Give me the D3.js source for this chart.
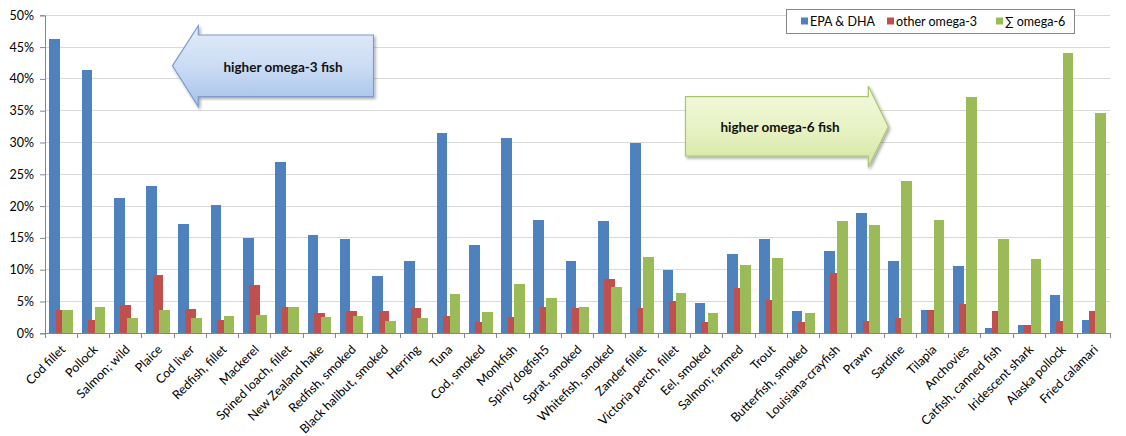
<!DOCTYPE html>
<html>
<head>
<meta charset="utf-8">
<script src="https://cdn.jsdelivr.net/npm/d3@7"></script>
<style>
  html, body { margin: 0; padding: 0; background: #fff; }
  svg { display: block; font-family: Lato, "Open Sans", sans-serif; }
</style>
</head>
<body>
<svg id="chart" width="1126" height="436"></svg>
<script>
const categories = ["Cod fillet", "Pollock", "Salmon; wild", "Plaice", "Cod liver", "Redfish, fillet",
  "Mackerel", "Spined loach, fillet", "New Zealand hake", "Redfish, smoked", "Black halibut, smoked",
  "Herring", "Tuna", "Cod, smoked", "Monkfish", "Spiny dogfish5", "Sprat, smoked", "Whitefish, smoked",
  "Zander fillet", "Victoria perch, fillet", "Eel, smoked", "Salmon; farmed", "Trout", "Butterfish, smoked",
  "Louisiana-crayfish", "Prawn", "Sardine", "Tilapia", "Anchovies", "Catfish, canned fish",
  "Iridescent shark", "Alaska pollock", "Fried calamari"];

const seriesNames = ["EPA & DHA", "other omega-3", "\u2211 omega-6"];

const epaDha = [46.3, 41.4, 21.3, 23.1, 17.2, 20.2, 15.0, 26.9, 15.4, 14.8,
  9.0, 11.4, 31.5, 13.9, 30.7, 17.8, 11.4, 17.6, 29.9, 9.95,
  4.8, 12.5, 14.8, 3.5, 13.0, 18.9, 11.4, 3.7, 10.6, 0.9,
  1.3, 6.0, 2.1];
const otherOmega3 = [3.7, 2.1, 4.45, 9.2, 3.8, 2.1, 7.6, 4.1, 3.2, 3.5,
  3.5, 4.0, 2.7, 1.8, 2.6, 4.1, 4.0, 8.5, 4.0, 5.1,
  1.8, 7.1, 5.2, 1.8, 9.5, 1.9, 2.4, 3.7, 4.55, 3.5,
  1.3, 1.9, 3.5];
const omega6 = [3.7, 4.1, 2.4, 3.7, 2.4, 2.7, 2.9, 4.1, 2.6, 2.7,
  1.9, 2.4, 6.2, 3.35, 7.75, 5.55, 4.1, 7.3, 12.0, 6.3,
  3.2, 10.7, 11.9, 3.2, 17.7, 17.0, 23.9, 17.8, 37.1, 14.8,
  11.7, 44.1, 34.6];

const yTicks = [0, 5, 10, 15, 20, 25, 30, 35, 40, 45, 50];
const colors = ["#4f81bd", "#c0504d", "#9bbb59"];

const seriesValues = [epaDha, otherOmega3, omega6];

const svg = d3.select("#chart");
const plotLeft = 45, plotRight = 1110, plotTop = 15.3, plotBottom = 333.3;

const x = d3.scaleBand().domain(categories).range([plotLeft, plotRight]).paddingInner(0).paddingOuter(0);
const y = d3.scaleLinear().domain([0, 50]).range([plotBottom, plotTop]);
// bars overlap: start offset within a category band, per series index
const sub = d3.scaleLinear().domain([0, 2]).range([x.bandwidth() * 0.135, x.bandwidth() * 0.537]);
const barW = x.bandwidth() * 0.33;

// defs: gradients + shadow
const defs = svg.append("defs");
const gb = defs.append("linearGradient").attr("id", "gBlue").attr("x1", 0).attr("y1", 0).attr("x2", 0).attr("y2", 1);
gb.append("stop").attr("offset", "0%").attr("stop-color", "#e2ecf9");
gb.append("stop").attr("offset", "55%").attr("stop-color", "#c8daf3");
gb.append("stop").attr("offset", "100%").attr("stop-color", "#a3c0ea");
const gg = defs.append("linearGradient").attr("id", "gGreen").attr("x1", 0).attr("y1", 0).attr("x2", 0).attr("y2", 1);
gg.append("stop").attr("offset", "0%").attr("stop-color", "#f4f9e0");
gg.append("stop").attr("offset", "55%").attr("stop-color", "#e6f2c2");
gg.append("stop").attr("offset", "100%").attr("stop-color", "#d2e6a2");
const f = defs.append("filter").attr("id", "shadow").attr("x", "-10%").attr("y", "-10%").attr("width", "130%").attr("height", "140%");
f.append("feDropShadow").attr("dx", 1.5).attr("dy", 2).attr("stdDeviation", 1.5).attr("flood-color", "#000").attr("flood-opacity", 0.35);

// gridlines
svg.append("g").selectAll("line").data(yTicks.filter(d => d > 0)).join("line")
  .attr("x1", plotLeft).attr("x2", plotRight)
  .attr("y1", d => y(d)).attr("y2", d => y(d))
  .attr("stroke", "#d9d9d9").attr("stroke-width", 1).attr("shape-rendering", "crispEdges");

// bars (blue, red, green in draw order)
seriesValues.forEach((vals, si) => {
  svg.append("g").selectAll("rect").data(vals).join("rect")
    .attr("x", (d, i) => x(categories[i]) + sub(si))
    .attr("width", barW)
    .attr("y", d => y(d))
    .attr("height", d => y(0) - y(d))
    .attr("fill", colors[si])
    .attr("shape-rendering", "crispEdges");
});

// y axis
const yAxis = d3.axisLeft(y).tickValues(yTicks).tickSize(5).tickPadding(6).tickFormat(d => d + "%");
const gy = svg.append("g").attr("transform", `translate(${plotLeft},0)`).call(yAxis);
gy.select(".domain").attr("stroke", "#868686");
gy.selectAll(".tick line").attr("stroke", "#868686");
gy.selectAll("text").attr("font-size", 12.5).attr("fill", "#000").attr("font-family", "Lato, sans-serif");

// x axis
const boundaries = categories.map(c => x(c)).concat([plotRight]);
svg.append("line").attr("x1", plotLeft).attr("x2", plotRight).attr("y1", plotBottom).attr("y2", plotBottom)
  .attr("stroke", "#868686").attr("shape-rendering", "crispEdges");
svg.append("g").selectAll("line").data(boundaries).join("line")
  .attr("x1", d => d).attr("x2", d => d).attr("y1", plotBottom).attr("y2", plotBottom + 5)
  .attr("stroke", "#868686").attr("shape-rendering", "crispEdges");
svg.append("g").selectAll("text").data(categories).join("text")
  .attr("transform", d => `translate(${x(d) + x.bandwidth() / 2 + 5},${plotBottom + 17}) rotate(-45)`)
  .attr("text-anchor", "end")
  .attr("font-size", 12.5)
  .attr("fill", "#000")
  .text(d => d);

// legend
const lg = svg.append("g");
lg.append("rect").attr("x", 786.5).attr("y", 9.5).attr("width", 288).attr("height", 24)
  .attr("fill", "#fff").attr("stroke", "#868686");
const legendX = [801, 887, 996];
seriesNames.forEach((n, i) => {
  lg.append("rect").attr("x", legendX[i]).attr("y", 17.5).attr("width", 7).attr("height", 7).attr("fill", colors[i]);
  lg.append("text").attr("x", legendX[i] + 9).attr("y", 25.5).attr("font-size", 12.5).attr("fill", "#000").text(n);
});

// annotation arrows
svg.append("path")
  .attr("d", "M172.5,65.7 L198.3,25.7 L198.3,35 L373.5,35 L373.5,96.5 L198.3,96.5 L198.3,106.7 Z")
  .attr("fill", "url(#gBlue)").attr("stroke", "#7b9cd0").attr("stroke-width", 1.2)
  .attr("filter", "url(#shadow)");
svg.append("text").attr("x", 283).attr("y", 71.5).attr("text-anchor", "middle")
  .attr("font-size", 13.5).attr("font-weight", "bold").attr("fill", "#111").text("higher omega-3 fish");

svg.append("path")
  .attr("d", "M685.5,96.7 L868.3,96.7 L868.3,86 L888.3,126.7 L868.3,167.3 L868.3,156 L685.5,156 Z")
  .attr("fill", "url(#gGreen)").attr("stroke", "#a9c56f").attr("stroke-width", 1.2)
  .attr("filter", "url(#shadow)");
svg.append("text").attr("x", 780).attr("y", 131.5).attr("text-anchor", "middle")
  .attr("font-size", 13.5).attr("font-weight", "bold").attr("fill", "#111").text("higher omega-6 fish");
</script>
</body>
</html>
